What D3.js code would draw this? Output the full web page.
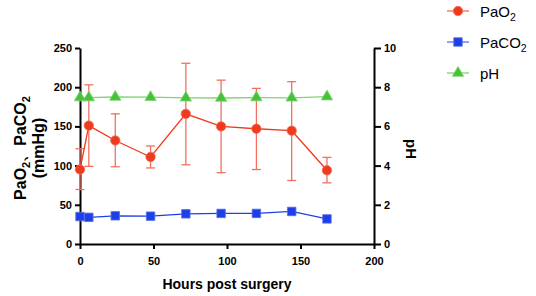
<!DOCTYPE html>
<html><head><meta charset="utf-8">
<script src="https://cdn.jsdelivr.net/npm/d3@7"></script>
<style>body{margin:0;background:#fff}svg{display:block}</style>
</head><body>
<script>
const hours = [0, 6, 24, 48, 72, 96, 120, 144, 168];
const pao2 = [95, 151, 132, 111, 166, 150, 147, 144.5, 94];
const pao2Upper = [121.5, 203, 166, 125, 230.5, 209, 198.5, 207, 110.5];
const pao2Lower = [69.5, 99, 98.5, 97, 101, 91, 95, 81, 78];
const paco2 = [35, 34, 36, 35.5, 38.5, 39, 39, 41.5, 32];
const paco2Upper = [36.5, 35.5, 37.5, 37, 40, 40.5, 40.5, 45.5, 33];
const paco2Lower = [33.5, 32.5, 34.5, 34, 37, 37.5, 37.5, 37.5, 31];
const ph = [7.47, 7.47, 7.5, 7.49, 7.46, 7.45, 7.47, 7.46, 7.52];
const xTicks = [0, 50, 100, 150, 200];
const yLeftTicks = [0, 50, 100, 150, 200, 250];
const yRightTicks = [0, 2, 4, 6, 8, 10];

const W = 536, H = 296;
const svg = d3.select("body").append("svg").attr("width", W).attr("height", H)
  .style("font-family", "'Liberation Sans', Arial, Helvetica, sans-serif");

const x = d3.scaleLinear().domain([0, 200]).range([80, 374]);
const yL = d3.scaleLinear().domain([0, 250]).range([244, 48]);
const yR = d3.scaleLinear().domain([0, 10]).range([244, 48]);

const red = "#f03a1e", redLight = "#f0705e";
const blue = "#1f3fe6", blueLight = "#5470ee";
const green = "#46c23a", greenLight = "#7fd46f";

function styleAxis(g) {
  g.selectAll(".domain").attr("stroke", "#000").attr("stroke-width", 2);
  g.selectAll(".tick line").attr("stroke", "#000").attr("stroke-width", 2);
  g.selectAll(".tick text").attr("font-size", 11).attr("font-weight", "bold").attr("fill", "#000")
    .style("font-family", "'Liberation Sans', Arial, sans-serif");
}

svg.append("g").attr("transform", "translate(0,244)")
  .call(d3.axisBottom(x).tickValues(xTicks).tickSize(5).tickSizeOuter(0).tickPadding(8))
  .call(styleAxis);
svg.append("g").attr("transform", "translate(80,0)")
  .call(d3.axisLeft(yL).tickValues(yLeftTicks).tickSize(5).tickSizeOuter(0).tickPadding(3))
  .call(styleAxis);
svg.append("g").attr("transform", "translate(374,0)")
  .call(d3.axisRight(yR).tickValues(yRightTicks).tickSize(7).tickSizeOuter(0).tickPadding(3))
  .call(styleAxis);

// error bars
function errorBars(up, lo, yS, color, cap) {
  const g = svg.append("g").attr("stroke", color).attr("stroke-width", 1.3).attr("fill", "none");
  hours.forEach((h, i) => {
    const cx = x(h);
    g.append("line").attr("x1", cx).attr("x2", cx).attr("y1", yS(up[i])).attr("y2", yS(lo[i]));
    g.append("line").attr("x1", cx - cap).attr("x2", cx + cap).attr("y1", yS(up[i])).attr("y2", yS(up[i]));
    g.append("line").attr("x1", cx - cap).attr("x2", cx + cap).attr("y1", yS(lo[i])).attr("y2", yS(lo[i]));
  });
}
errorBars(pao2Upper, pao2Lower, yL, redLight, 4.5);
errorBars(paco2Upper, paco2Lower, yL, blueLight, 3.5);

function seriesLine(vals, yS, color) {
  svg.append("path").datum(vals)
    .attr("fill", "none").attr("stroke", color).attr("stroke-width", 1.3)
    .attr("d", d3.line().x((d, i) => x(hours[i])).y(d => yS(d)));
}
seriesLine(pao2, yL, red);
seriesLine(paco2, yL, blue);
seriesLine(ph, yR, greenLight);

const sym = {
  circle: d3.symbol().type(d3.symbolCircle).size(70),
  square: d3.symbol().type(d3.symbolSquare).size(72),
  triangle: d3.symbol().type(d3.symbolTriangle).size(56)
};
function markers(vals, yS, shape, fill, stroke) {
  svg.append("g").selectAll("path").data(vals).join("path")
    .attr("d", sym[shape])
    .attr("transform", (d, i) => `translate(${x(hours[i])},${yS(d)})`)
    .attr("fill", fill).attr("stroke", stroke).attr("stroke-width", 0.8);
}
markers(ph, yR, "triangle", green, greenLight);
markers(paco2, yL, "square", blue, blueLight);
markers(pao2, yL, "circle", red, redLight);

// axis titles
svg.append("text").attr("x", 227).attr("y", 289).attr("text-anchor", "middle")
  .attr("font-size", 14).attr("font-weight", "bold").text("Hours post surgery");

const lt = svg.append("text").attr("transform", "translate(26,148) rotate(-90)")
  .attr("text-anchor", "middle").attr("font-size", 16).attr("font-weight", "bold");
lt.append("tspan").text("PaO");
lt.append("tspan").attr("font-size", 11).attr("dy", 4).text("2");
lt.append("tspan").attr("dy", -4).text("、PaCO");
lt.append("tspan").attr("font-size", 11).attr("dy", 4).text("2");
svg.append("text").attr("transform", "translate(44,148) rotate(-90)")
  .attr("text-anchor", "middle").attr("font-size", 16).attr("font-weight", "bold").text("(mmHg)");

svg.append("text").attr("transform", "translate(406,149) rotate(90)")
  .attr("text-anchor", "middle").attr("font-size", 15).attr("font-weight", "bold").text("pH");

// legend
const legend = [
  { name: "PaO", sub: "2", shape: "circle", fill: red, line: redLight, stroke: redLight },
  { name: "PaCO", sub: "2", shape: "square", fill: blue, line: blueLight, stroke: blueLight },
  { name: "pH", sub: "", shape: "triangle", fill: green, line: greenLight, stroke: greenLight }
];
const lg = svg.append("g");
legend.forEach((d, i) => {
  const cy = 11 + i * 31;
  lg.append("line").attr("x1", 447).attr("x2", 469).attr("y1", cy).attr("y2", cy)
    .attr("stroke", d.line).attr("stroke-width", 1.3);
  lg.append("path").attr("d", sym[d.shape]).attr("transform", `translate(458,${cy})`)
    .attr("fill", d.fill).attr("stroke", d.stroke).attr("stroke-width", 0.8);
  const t = lg.append("text").attr("x", 480).attr("y", cy + 6).attr("font-size", 15);
  t.append("tspan").text(d.name);
  if (d.sub) t.append("tspan").attr("font-size", 10.5).attr("dy", 4).text(d.sub);
});
</script>
</body></html>
